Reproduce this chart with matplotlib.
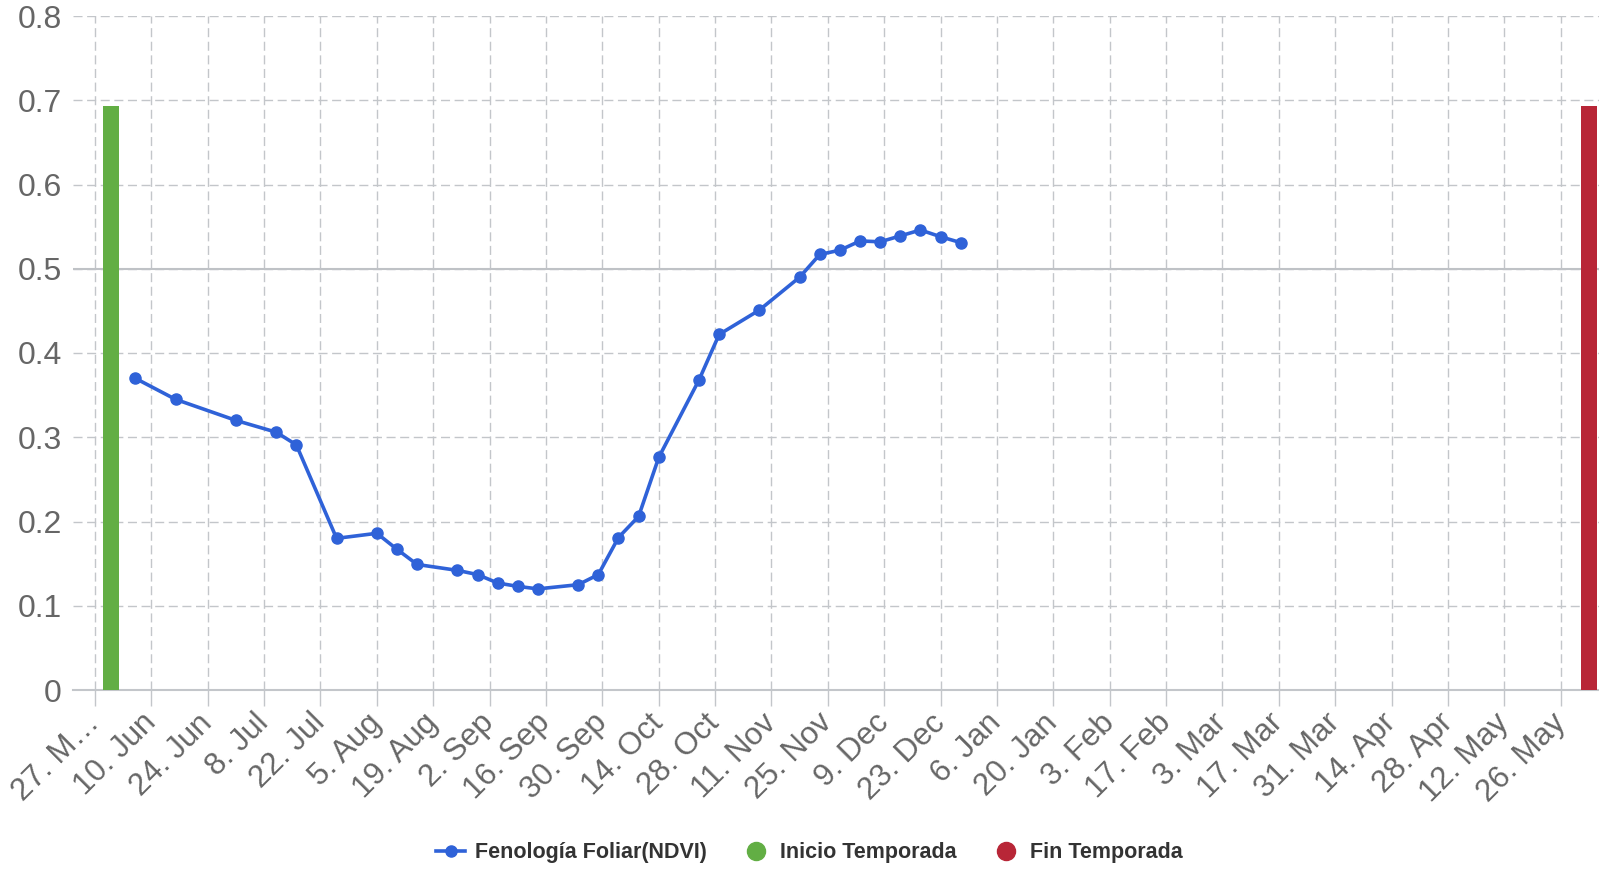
import matplotlib
matplotlib.use("Agg")
import matplotlib.pyplot as plt
from matplotlib.lines import Line2D
import pandas as pd

plt.rcParams['font.family'] = ['Liberation Sans', 'DejaVu Sans']

# datos NDVI
ndvi_dates = ["2024-06-06", "2024-06-16", "2024-07-01", "2024-07-11", "2024-07-16",
              "2024-07-26", "2024-08-05", "2024-08-10", "2024-08-15", "2024-08-25",
              "2024-08-30", "2024-09-04", "2024-09-09", "2024-09-14", "2024-09-24",
              "2024-09-29", "2024-10-04", "2024-10-09", "2024-10-14", "2024-10-24",
              "2024-10-29", "2024-11-08", "2024-11-18", "2024-11-23", "2024-11-28",
              "2024-12-03", "2024-12-08", "2024-12-13", "2024-12-18", "2024-12-23",
              "2024-12-28"]
ndvi_values = [0.370, 0.345, 0.320, 0.306, 0.291, 0.180, 0.186, 0.167, 0.149, 0.142,
               0.137, 0.127, 0.123, 0.120, 0.125, 0.137, 0.181, 0.206, 0.276, 0.368,
               0.422, 0.451, 0.490, 0.517, 0.522, 0.533, 0.532, 0.539, 0.546, 0.538,
               0.531]

# inicio / fin de temporada
inicio_dates = ["2024-05-31"]
inicio_values = [0.693]
fin_dates = ["2025-06-02"]
fin_values = [0.693]

# ejes
x_start = "2024-05-27"
x_range = ("2024-05-21 13:00", "2025-06-04 12:00")
tick_labels = ["27. M\u2026", "10. Jun", "24. Jun", "8. Jul", "22. Jul", "5. Aug",
               "19. Aug", "2. Sep", "16. Sep", "30. Sep", "14. Oct", "28. Oct",
               "11. Nov", "25. Nov", "9. Dec", "23. Dec", "6. Jan", "20. Jan",
               "3. Feb", "17. Feb", "3. Mar", "17. Mar", "31. Mar", "14. Apr",
               "28. Apr", "12. May", "26. May"]
y_ticks = [0, 0.1, 0.2, 0.3, 0.4, 0.5, 0.6, 0.7, 0.8]
y_labels = ["0", "0.1", "0.2", "0.3", "0.4", "0.5", "0.6", "0.7", "0.8"]

blue = "#2f62d8"
green = "#62ae44"
red = "#b82637"
grid_c = "#c3c6ca"

fig = plt.figure(figsize=(15.99, 8.69), dpi=100)
ax = fig.add_axes([73 / 1599, 1 - 690 / 869, 1526 / 1599, 674 / 869])

ax.axhline(0.5, color="#bfc2c6", lw=1.5, zorder=2)
ax.bar(pd.to_datetime(inicio_dates), inicio_values, width=4, color=green, zorder=3)
ax.bar(pd.to_datetime(fin_dates), fin_values, width=4, color=red, zorder=3)
ax.plot(pd.to_datetime(ndvi_dates), ndvi_values, color=blue, lw=2.6,
        marker="o", ms=8, zorder=5)

ax.set_xlim(pd.Timestamp(x_range[0]), pd.Timestamp(x_range[1]))
ax.set_ylim(0, 0.8)

tick_dates = pd.date_range(x_start, periods=len(tick_labels), freq="14D")
ax.set_xticks(tick_dates)
ax.set_xticklabels(tick_labels, rotation=45, ha="right", va="center",
                   rotation_mode="anchor", color="#666666", fontsize=22.5)
ax.set_yticks(y_ticks)
ax.set_yticklabels(y_labels, color="#666666", fontsize=23)

ax.tick_params(axis="x", length=11.5, width=1, color=grid_c, pad=9)
ax.tick_params(axis="y", length=0, pad=8)

ax.set_axisbelow(True)
ax.grid(True, ls=(0, (6.5, 3.3)), color=grid_c, lw=1)

for s in ["top", "right", "left"]:
    ax.spines[s].set_visible(False)
ax.spines["bottom"].set_color(grid_c)
ax.spines["bottom"].set_linewidth(1.5)

handles = [
    Line2D([], [], color=blue, lw=2.6, marker="o", ms=8),
    Line2D([], [], ls="none", marker="o", ms=13, color=green),
    Line2D([], [], ls="none", marker="o", ms=13, color=red),
]
labels = ["Fenología Foliar(NDVI)", "Inicio Temporada", "Fin Temporada"]
fig.legend(handles, labels, loc="center", bbox_to_anchor=(809.5 / 1599, 1 - 852.6 / 869),
           ncol=3, frameon=False, prop={"weight": "bold", "size": 15.5},
           labelcolor="#333333", handlelength=1.35, handletextpad=0.45,
           columnspacing=1.6)

fig.savefig("out.png", dpi=100)
